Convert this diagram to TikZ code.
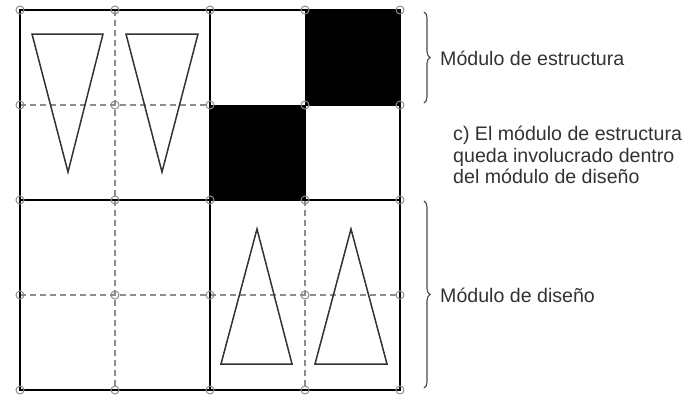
\documentclass[tikz,border=0pt]{standalone}
\usepackage{fontspec}
\setmainfont{Liberation Sans}
\usetikzlibrary{decorations.pathreplacing}

\definecolor{gridgray}{RGB}{140,140,140}
\definecolor{textgray}{RGB}{50,50,50}

\tikzset{
  thickline/.style={black,line width=2.4pt},
  dashline/.style={gridgray,line width=1.6pt,dash pattern=on 6pt off 4pt},
  thinline/.style={black,line width=1pt},
  knot/.style={circle,draw=gridgray,line width=1pt,inner sep=0pt,minimum size=8pt},
  figline/.style={black!80,line width=1.5pt,line join=miter},
  modbrace/.style={decorate,decoration={brace,amplitude=6pt},black!70,line width=1.1pt},
  label/.style={font=\fontsize{19.6}{21.5}\selectfont,text=textgray,inner sep=0pt}
}

\begin{document}
\begin{tikzpicture}[x=1pt,y=-1pt]
\useasboundingbox (0,0) rectangle (690,394);
\pgfmathsetmacro{\cell}{95}

\foreach \i in {0,...,4}
  \foreach \j in {0,...,4}
    \coordinate (g\i\j) at ({20+\cell*\i},{10+\cell*\j});

% structure module
\fill[black] (g30) rectangle (g41);
\fill[black] (g21) rectangle (g32);
\draw[thinline] (g30) rectangle (g41);
\draw[thinline] (g21) rectangle (g32);

\draw[dashline] (g10) -- (g14);
\draw[dashline] (g01) -- (g21);
\draw[dashline] (g03) -- (g43);
\draw[dashline] (g32) -- (g34);

\draw[thickline] (g00) -- (g40) -- (g44) -- (g04) -- cycle;
\draw[thickline] (g20) -- (g24);
\draw[thickline] (g02) -- (g42);

\foreach \i in {0,...,4}
  \foreach \j in {0,...,4}
    \node[knot] (k\i\j) at (g\i\j) {};

% design module
\draw[figline] (32,34) -- (103,34) -- (68,172) -- cycle;
\draw[figline] (126,34) -- (198,34) -- (162,172) -- cycle;
\draw[figline] (257,229) -- (292,364) -- (221,364) -- cycle;
\draw[figline] (351,229) -- (387,364) -- (315,364) -- cycle;

\coordinate (b1t) at (424,12);
\coordinate (b1b) at (424,103);
\coordinate (b2t) at (424,201);
\coordinate (b2b) at (424,388);
\draw[modbrace] (b1t) -- (b1b);
\draw[modbrace] (b2t) -- (b2b);

\node[label,anchor=west] (estructura) at (440,58) {Módulo de estructura};
\node[label,anchor=west] (diseno) at (440,295) {Módulo de diseño};
\node[label,anchor=north west,align=left] (nota) at (453,126)
  {c) El módulo de estructura\\queda involucrado dentro\\del módulo de diseño};

\end{tikzpicture}
\end{document}
